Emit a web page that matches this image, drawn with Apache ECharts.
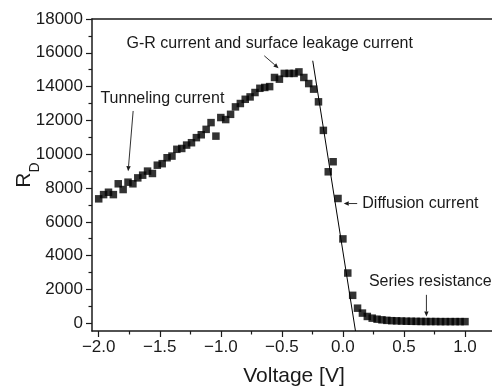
<!DOCTYPE html>
<html><head><meta charset="utf-8">
<script src="https://cdn.jsdelivr.net/npm/echarts@6/dist/echarts.min.js"></script>
<style>html,body{margin:0;padding:0;background:#fff}#c{width:492px;height:387px}</style>
</head><body><div id="c"></div>
<script>
// ---- data ----
const voltages = [-2.00,-1.96,-1.92,-1.88,-1.84,-1.80,-1.76,-1.72,-1.68,-1.64,
  -1.60,-1.56,-1.52,-1.48,-1.44,-1.40,-1.36,-1.32,-1.28,-1.24,
  -1.20,-1.16,-1.12,-1.08,-1.04,-1.00,-0.96,-0.92,-0.88,-0.84,
  -0.80,-0.76,-0.72,-0.68,-0.64,-0.60,-0.56,-0.52,-0.48,-0.44,
  -0.40,-0.36,-0.32,-0.28,-0.24,-0.20,-0.16,-0.12,-0.08,-0.04,
  0.00,0.04,0.08,0.12,0.16,0.20,0.24,0.28,0.32,0.36,
  0.40,0.44,0.48,0.52,0.56,0.60,0.64,0.68,0.72,0.76,
  0.80,0.84,0.88,0.92,0.96,1.00];
const rd = [7360,7610,7750,7610,8250,7910,8345,8250,8600,8760,
  9000,8860,9350,9440,9790,9890,10290,10340,10540,10680,
  10980,11150,11470,11870,11070,12170,12050,12360,12800,13000,
  13250,13390,13650,13900,13950,14000,14540,14440,14780,14780,
  14780,14870,14540,14180,13850,13100,11410,8960,9555,7380,
  4990,2970,1650,890,600,400,300,240,200,170,
  150,140,130,120,115,110,105,100,100,100,
  95,95,95,95,95,95];
const fitV = [-0.247, 0.103];
const fitR = [15530, -460];
const xTicks = [-2.0,-1.5,-1.0,-0.5,0.0,0.5,1.0];
const xMinorTicks = [-1.75,-1.25,-0.75,-0.25,0.25,0.75];
const yTicks = [0,2000,4000,6000,8000,10000,12000,14000,16000,18000];
const yMinorTicks = [1000,3000,5000,7000,9000,11000,13000,15000,17000];
const xTitle = 'Voltage [V]';
const annTexts = [
  {text:'G-R current and surface leakage current', v:-1.772, r:16517},
  {text:'Tunneling current', v:-1.986, r:13312},
  {text:'Diffusion current', v:0.159, r:7081},
  {text:'Series resistance', v:0.213, r:2469}
];
const annArrows = [
  {from:[-0.644,15823], to:[-0.527,15093]},
  {from:[-1.718,12558], to:[-1.759,8997]},
  {from:[0.117,7081], to:[0.007,7081]},
  {from:[0.684,1680], to:[0.684,392]}
];

const FONT = 'Liberation Sans, Arial, sans-serif';
const INK = '#1a1a1a';
const XMIN = -2.055, XMAX = 1.254, YMIN = -460, YMAX = 18000;
const fmtMinus = v => (v < 0 ? '\u2212' : '') + Math.abs(v).toFixed(1);

const chart = echarts.init(document.getElementById('c'), null, {renderer:'canvas'});
const option = {
  animation: false,
  backgroundColor: '#fff',
  grid: {left: 92, top: 19, right: -4, bottom: 56, show: false, containLabel: false, outerBoundsMode: 'none'},
  xAxis: [{
    type: 'value', min: XMIN, max: XMAX, position: 'bottom',
    axisLine: {show: true, onZero: false, lineStyle: {color: INK, width: 1.5}},
    axisTick: {show: true, inside: false, length: 6, customValues: xTicks, lineStyle: {color: INK, width: 1.2}},
    axisLabel: {show: true, customValues: xTicks, formatter: fmtMinus, fontSize: 17, fontFamily: FONT, color: INK, margin: 8},
    splitLine: {show: false},
    name: xTitle, nameLocation: 'middle', nameGap: 35, nameMoveOverlap: false,
    nameTextStyle: {fontSize: 21, fontFamily: FONT, color: INK}
  }, {
    type: 'value', min: XMIN, max: XMAX, position: 'bottom',
    axisLine: {show: false, onZero: false},
    axisTick: {show: true, inside: false, length: 3.5, customValues: xMinorTicks, lineStyle: {color: INK, width: 1.2}},
    axisLabel: {show: false}, splitLine: {show: false}
  }, {
    type: 'value', min: XMIN, max: XMAX, position: 'top',
    axisLine: {show: true, onZero: false, lineStyle: {color: INK, width: 1.5}},
    axisTick: {show: false}, axisLabel: {show: false}, splitLine: {show: false}
  }],
  yAxis: [{
    type: 'value', min: YMIN, max: YMAX, position: 'left',
    axisLine: {show: true, onZero: false, lineStyle: {color: INK, width: 1.5}},
    axisTick: {show: true, inside: false, length: 6, customValues: yTicks, lineStyle: {color: INK, width: 1.2}},
    axisLabel: {show: true, customValues: yTicks, formatter: v => String(v), fontSize: 17, fontFamily: FONT, color: INK, margin: 9},
    splitLine: {show: false},
    name: '{r|R}{d|D}', nameLocation: 'middle', nameRotate: 90, nameGap: 50, nameMoveOverlap: false,
    nameTextStyle: {
      rich: {
        r: {fontSize: 21, fontFamily: FONT, color: INK, verticalAlign: 'top', lineHeight: 28},
        d: {fontSize: 14, fontFamily: FONT, color: INK, verticalAlign: 'bottom', lineHeight: 28}
      }
    }
  }, {
    type: 'value', min: YMIN, max: YMAX, position: 'left',
    axisLine: {show: false, onZero: false},
    axisTick: {show: true, inside: false, length: 3.5, customValues: yMinorTicks, lineStyle: {color: INK, width: 1.2}},
    axisLabel: {show: false}, splitLine: {show: false}
  }],
  series: [{
    type: 'line', name: 'fit', xAxisIndex: 0, yAxisIndex: 0,
    data: fitV.map((v, i) => [v, fitR[i]]),
    showSymbol: false, symbol: 'none', lineStyle: {color: '#000', width: 1}, z: 2, silent: true
  }, {
    type: 'scatter', name: 'RD', xAxisIndex: 0, yAxisIndex: 0,
    data: voltages.map((v, i) => [v, rd[i]]),
    symbol: 'rect', symbolSize: 7.5, itemStyle: {color: '#000'}, z: 3
  }]
};
chart.setOption(option);

function px(p) { return chart.convertToPixel({xAxisIndex: 0, yAxisIndex: 0}, p); }
const elements = [];
annTexts.forEach(a => {
  const p = px([a.v, a.r]);
  elements.push({type: 'text', x: p[0], y: p[1], z: 10,
    style: {text: a.text, fontSize: 16, fontFamily: FONT, fill: INK, textAlign: 'left', textVerticalAlign: 'middle', verticalAlign: 'middle'}});
});
annArrows.forEach(a => {
  const p1 = px(a.from), p2 = px(a.to);
  const dx = p2[0] - p1[0], dy = p2[1] - p1[1];
  const L = Math.hypot(dx, dy), ux = dx / L, uy = dy / L;
  const hl = 5, hw = 2.2;
  const bx = p2[0] - ux * hl, by = p2[1] - uy * hl;
  elements.push({type: 'line', z: 10, shape: {x1: p1[0], y1: p1[1], x2: bx, y2: by}, style: {stroke: INK, lineWidth: 0.9}});
  elements.push({type: 'polygon', z: 10, shape: {points: [[p2[0], p2[1]], [bx - uy * hw, by + ux * hw], [bx + uy * hw, by - ux * hw]]}, style: {fill: INK}});
});
chart.setOption({graphic: {elements: elements}});
</script>
</body></html>
